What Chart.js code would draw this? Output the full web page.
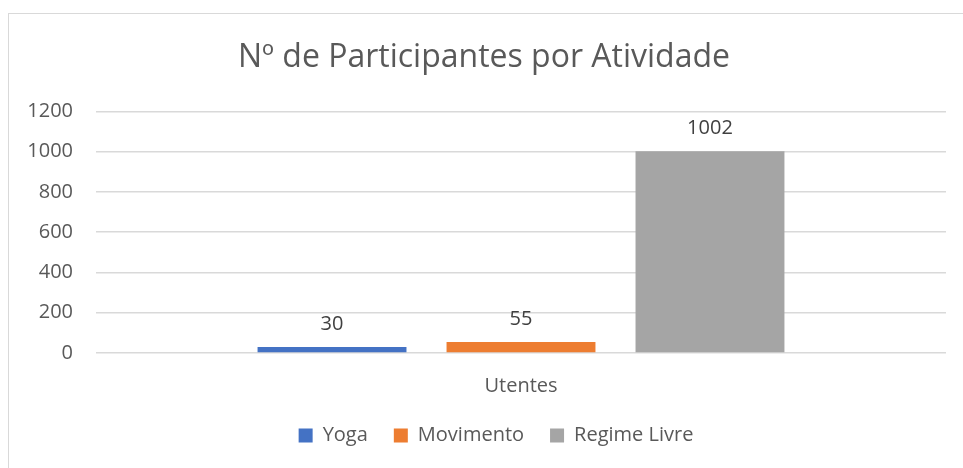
<!DOCTYPE html>
<html>
<head>
<meta charset="utf-8">
<script src="https://cdn.jsdelivr.net/npm/chart.js@4"></script>
<style>
  html, body { margin: 0; padding: 0; background: #fff; overflow: hidden; }
  #wrap { position: relative; width: 963px; height: 468px; }
  #frame { position: absolute; left: 8px; top: 13px; width: 1000px; height: 1000px; border: 1px solid #d9d9d9; }
  #chart { position: absolute; left: 0; top: 0; }
</style>
</head>
<body>
<div id="wrap">
  <div id="frame"></div>
  <canvas id="chart" width="963" height="468"></canvas>
</div>
<script>
// Data
const categories = ['Utentes'];
const seriesNames = ['Yoga', 'Movimento', 'Regime Livre'];
const yoga = [30];
const movimento = [55];
const regimeLivre = [1002];
const yTicks = [0, 200, 400, 600, 800, 1000, 1200];

const colors = ['#4472C4', '#ED7D31', '#A5A5A5'];
const font = "'Open Sans', 'Noto Sans', sans-serif";

// Value labels above each bar
const valueLabels = {
  id: 'valueLabels',
  afterDatasetsDraw(chart) {
    const ctx = chart.ctx;
    ctx.save();
    ctx.font = '20px ' + font;
    ctx.fillStyle = '#404040';
    ctx.textAlign = 'center';
    ctx.textBaseline = 'alphabetic';
    chart.data.datasets.forEach((ds, i) => {
      chart.getDatasetMeta(i).data.forEach((bar, j) => {
        ctx.fillText(String(ds.data[j]), bar.x, bar.y - 17);
      });
    });
    ctx.restore();
  }
};

// Nudge the legend a bit to the right, like the original
const legendShift = {
  id: 'legendShift',
  afterLayout(chart) {
    chart.legend.left += 12;
    chart.legend.right += 12;
  }
};

const ctx = document.getElementById('chart').getContext('2d');
const chart = new Chart(ctx, {
  type: 'bar',
  data: {
    labels: categories,
    datasets: [
      { label: seriesNames[0], data: yoga, backgroundColor: colors[0] },
      { label: seriesNames[1], data: movimento, backgroundColor: colors[1] },
      { label: seriesNames[2], data: regimeLivre, backgroundColor: colors[2] }
    ]
  },
  options: {
    responsive: false,
    animation: false,
    events: [],
    categoryPercentage: 0.667,
    barPercentage: 0.788,
    layout: { padding: { left: 22, right: 17, top: 0, bottom: 12.5 } },
    plugins: {
      title: {
        display: true,
        text: 'Nº de Participantes por Atividade',
        color: '#595959',
        font: { family: font, size: 32, weight: 'normal' },
        padding: { top: 39, bottom: 34 }
      },
      legend: {
        position: 'bottom',
        labels: {
          boxWidth: 14,
          boxHeight: 14,
          padding: 26,
          color: '#595959',
          font: { family: font, size: 20 }
        }
      },
      tooltip: { enabled: false }
    },
    scales: {
      x: {
        grid: { display: false },
        border: { display: false },
        ticks: { color: '#595959', font: { family: font, size: 20 }, padding: 13 },
        afterFit(scale) { scale.height = 46.5; }
      },
      y: {
        min: 0,
        max: 1200,
        afterBuildTicks(scale) { scale.ticks = yTicks.map(v => ({ value: v })); },
        grid: { color: '#d9d9d9', lineWidth: 1.5, drawTicks: false },
        border: { display: false },
        ticks: {
          color: '#595959',
          font: { family: font, size: 20 },
          padding: 23,
          callback: (v) => String(v)
        },
        afterFit(scale) { scale.width = 74; }
      }
    }
  },
  plugins: [valueLabels, legendShift]
});
</script>
</body>
</html>
